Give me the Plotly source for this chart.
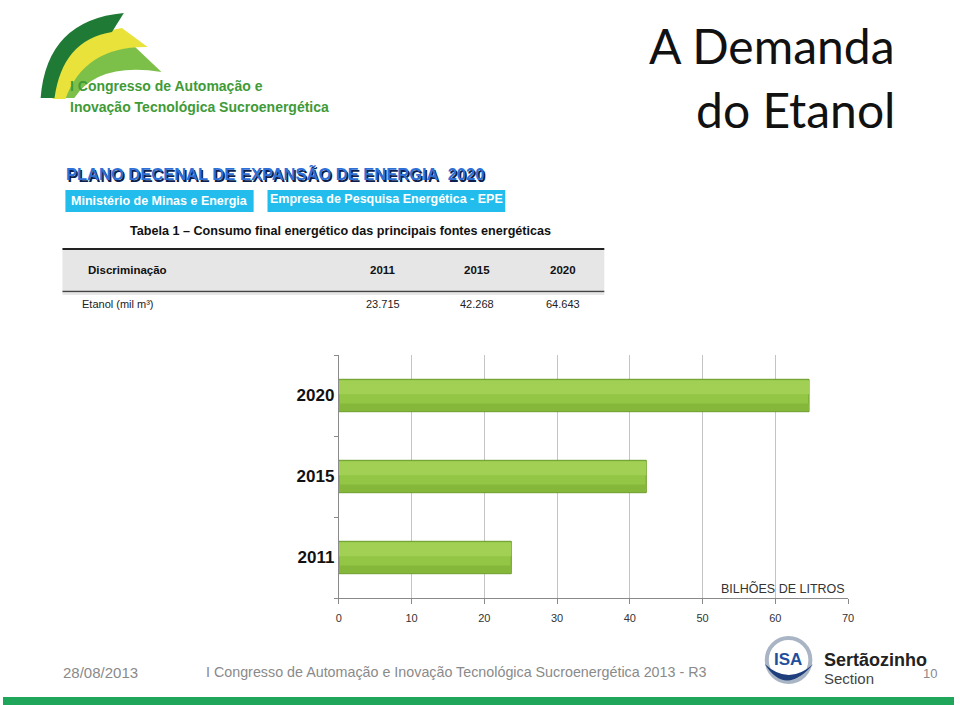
import plotly.graph_objects as go

# ---------------- data ----------------
years = ["2011", "2015", "2020"]
etanol_bi_litros = [23.715, 42.268, 64.643]
x_tick_values = [0, 10, 20, 30, 40, 50, 60, 70]
table_header = ["Discriminação", "2011", "2015", "2020"]
table_row_label = "Etanol (mil m³)"
axis_unit = "BILHÕES DE LITROS"
title_lines = ["A Demanda", "do Etanol"]
plan_title = "PLANO DECENAL DE EXPANSÃO DE ENERGIA\u00a0 2020"
box_labels = ["Ministério de Minas e Energia", "Empresa de Pesquisa Energética - EPE"]
table_caption = "Tabela 1 – Consumo final energético das principais fontes energéticas"
logo_lines = ["I Congresso de Automação e", "Inovação Tecnológica Sucroenergética"]
footer_date = "28/08/2013"
footer_text = "I Congresso de Automação e Inovação Tecnológica Sucroenergética 2013 - R3"
page_number = "10"

W, H = 960, 705


def X(px):
    return px / W


def Y(py):
    return 1 - py / H


def path(cmds):
    out = []
    for c in cmds:
        op = c[0]
        nums = c[1:]
        pts = []
        for i in range(0, len(nums), 2):
            pts.append(f"{X(nums[i]):.5f},{Y(nums[i + 1]):.5f}")
        out.append(op + " " + " ".join(pts))
    return " ".join(out)


fig = go.Figure()

# bars (base + light/dark bands to imitate the gradient)
fig.add_trace(go.Bar(
    x=etanol_bi_litros, y=years, orientation="h", width=0.4,
    marker=dict(color="#92c644", line=dict(color="#6a9a2a", width=1)),
    hoverinfo="skip", showlegend=False,
))
fig.add_trace(go.Bar(
    x=etanol_bi_litros, y=years, orientation="h", width=0.17, offset=0.015,
    marker=dict(color="#a2d055", line=dict(width=0)),
    hoverinfo="skip", showlegend=False,
))
fig.add_trace(go.Bar(
    x=etanol_bi_litros, y=years, orientation="h", width=0.09, offset=-0.19,
    marker=dict(color="#85b83a", line=dict(width=0)),
    hoverinfo="skip", showlegend=False,
))

fig.update_layout(
    width=W, height=H,
    margin=dict(l=0, r=0, t=0, b=0),
    paper_bgcolor="white", plot_bgcolor="white",
    barmode="overlay",
    showlegend=False,
    xaxis=dict(
        domain=[X(339), X(853)], range=[0, 70], tickvals=x_tick_values,
        showgrid=True, gridcolor="#c4c4c4", gridwidth=1,
        showline=True, linecolor="#8a8a8a", linewidth=1,
        ticks="outside", ticklen=5, tickcolor="#8a8a8a",
        tickfont=dict(family="Liberation Sans", size=11, color="#333333"),
        ticklabelstandoff=5, zeroline=False, fixedrange=True,
    ),
    yaxis=dict(
        domain=[Y(598), Y(355)], type="category",
        categoryorder="array", categoryarray=years, range=[-0.5, 2.5],
        showgrid=False, showline=True, linecolor="#8a8a8a", linewidth=1,
        ticks="outside", ticklen=4, tickcolor="#8a8a8a", tickson="boundaries",
        tickfont=dict(family="Liberation Sans", size=17, color="#111111", weight="bold"),
        fixedrange=True,
    ),
)

shapes = []
ann = []

# ---------- logo arcs ----------
shapes.append(dict(type="path", xref="paper", yref="paper",
                   path=path([("M", 62, 98), ("Q", 72, 48, 128, 42), ("L", 160, 72),
                              ("Q", 96, 62, 72, 98), ("Z",)]),
                   fillcolor="#7cc04a", line=dict(width=0)))
shapes.append(dict(type="path", xref="paper", yref="paper",
                   path=path([("M", 50, 99), ("Q", 58, 38, 120, 28), ("L", 146, 47),
                              ("Q", 82, 46, 63, 99), ("Z",)]),
                   fillcolor="#e8e23a", line=dict(width=0)))
shapes.append(dict(type="path", xref="paper", yref="paper",
                   path=path([("M", 38, 98), ("Q", 44, 20, 122, 13), ("L", 110, 32),
                              ("Q", 60, 40, 52, 98), ("Z",)]),
                   fillcolor="#1f7a35", line=dict(width=0)))
for i, t in enumerate(logo_lines):
    ann.append(dict(x=X(66), y=Y(86 + 21 * i), xref="paper", yref="paper",
                    text=t, showarrow=False, xanchor="left", yanchor="middle",
                    font=dict(family="Liberation Sans", size=14,
                              color="#3f9a38", weight="bold")))

# ---------- big title ----------
for i, t in enumerate(title_lines):
    ann.append(dict(x=X(902), y=Y(46 + 63 * i), xref="paper", yref="paper",
                    text=t, showarrow=False, xanchor="right", yanchor="middle",
                    font=dict(family="Lato", size=48, color="#111111")))

# ---------- plan title with shadow ----------
ann.append(dict(x=X(62), y=Y(173), xref="paper", yref="paper", text=plan_title,
                showarrow=False, xanchor="left", yanchor="middle",
                font=dict(family="Liberation Sans", size=16.5,
                          color="#2f6fd6", weight="bold",
                          shadow="1.5px 1.5px 0px #0d1f4e")))

# blue boxes
for (x0, x1, ty), t in zip([(63, 253, 201), (267, 507, 199)], box_labels):
    shapes.append(dict(type="rect", xref="paper", yref="paper",
                       x0=X(x0), x1=X(x1), y0=Y(212), y1=Y(190),
                       fillcolor="#22bdec", line=dict(width=0)))
    ann.append(dict(x=X((x0 + x1) / 2), y=Y(ty), xref="paper", yref="paper", text=t,
                    showarrow=False, xanchor="center", yanchor="middle",
                    font=dict(family="Liberation Sans", size=12.5, color="white", weight="bold")))

# caption
ann.append(dict(x=X(341), y=Y(231), xref="paper", yref="paper", text=table_caption,
                showarrow=False, xanchor="center", yanchor="middle",
                font=dict(family="Liberation Sans", size=12.6, color="#111111", weight="bold")))

# table
shapes.append(dict(type="rect", xref="paper", yref="paper", x0=X(60), x1=X(607),
                   y0=Y(291), y1=Y(250), fillcolor="#e6e6e6", line=dict(width=0)))
shapes.append(dict(type="line", xref="paper", yref="paper", x0=X(60), x1=X(607),
                   y0=Y(249), y1=Y(249), line=dict(color="#222222", width=2)))
shapes.append(dict(type="line", xref="paper", yref="paper", x0=X(60), x1=X(607),
                   y0=Y(291.5), y1=Y(291.5), line=dict(color="#444444", width=1.5)))
shapes.append(dict(type="line", xref="paper", yref="paper", x0=X(60), x1=X(607),
                   y0=Y(294), y1=Y(294), line=dict(color="#cfcfcf", width=1)))

col_x = [None, 384, 478, 565]
ann.append(dict(x=X(84), y=Y(270), xref="paper", yref="paper", text=table_header[0],
                showarrow=False, xanchor="left", yanchor="middle",
                font=dict(family="Liberation Sans", size=11.5, color="#111111", weight="bold")))
for cx, t in zip(col_x[1:], table_header[1:]):
    ann.append(dict(x=X(cx), y=Y(270), xref="paper", yref="paper", text=t,
                    showarrow=False, xanchor="center", yanchor="middle",
                    font=dict(family="Liberation Sans", size=11.5, color="#111111", weight="bold")))
ann.append(dict(x=X(78), y=Y(304), xref="paper", yref="paper", text=table_row_label,
                showarrow=False, xanchor="left", yanchor="middle",
                font=dict(family="Liberation Sans", size=11, color="#222222")))
for cx, v in zip(col_x[1:], etanol_bi_litros):
    ann.append(dict(x=X(cx), y=Y(304), xref="paper", yref="paper", text=f"{v:.3f}",
                    showarrow=False, xanchor="center", yanchor="middle",
                    font=dict(family="Liberation Sans", size=11, color="#222222")))

# unit label in chart
ann.append(dict(x=X(852), y=Y(588), xref="paper", yref="paper", text=axis_unit,
                showarrow=False, xanchor="right", yanchor="middle",
                font=dict(family="Liberation Sans", size=12.5, color="#333333")))

# ---------- footer ----------
ann.append(dict(x=X(98), y=Y(672), xref="paper", yref="paper", text=footer_date,
                showarrow=False, xanchor="center", yanchor="middle",
                font=dict(family="Liberation Sans", size=15, color="#8a8a8a")))
ann.append(dict(x=X(457), y=Y(672), xref="paper", yref="paper", text=footer_text,
                showarrow=False, xanchor="center", yanchor="middle",
                font=dict(family="Liberation Sans", size=14.3, color="#8a8a8a")))
ann.append(dict(x=X(936), y=Y(673), xref="paper", yref="paper", text=page_number,
                showarrow=False, xanchor="center", yanchor="middle",
                font=dict(family="Liberation Sans", size=13, color="#8a8a8a")))

# ISA logo
shapes.append(dict(type="circle", xref="paper", yref="paper",
                   x0=X(771), x1=X(815), y0=Y(682), y1=Y(638),
                   line=dict(color="#a9b5c5", width=4), fillcolor="rgba(0,0,0,0)"))
shapes.append(dict(type="path", xref="paper", yref="paper",
                   path=path([("M", 769, 664), ("Q", 790, 697, 818, 664),
                              ("Q", 793, 686, 769, 664), ("Z",)]),
                   fillcolor="#1f3f7c", line=dict(width=0)))
ann.append(dict(x=X(792), y=Y(659), xref="paper", yref="paper", text="ISA",
                showarrow=False, xanchor="center", yanchor="middle",
                font=dict(family="Liberation Sans", size=17, color="#1f4f9c", weight="bold")))
ann.append(dict(x=X(827), y=Y(660), xref="paper", yref="paper", text="Sertãozinho",
                showarrow=False, xanchor="left", yanchor="middle",
                font=dict(family="Liberation Sans", size=18, color="#222222", weight="bold")))
ann.append(dict(x=X(827), y=Y(678), xref="paper", yref="paper", text="Section",
                showarrow=False, xanchor="left", yanchor="middle",
                font=dict(family="Liberation Sans", size=15, color="#444444")))

# bottom green bar
shapes.append(dict(type="rect", xref="paper", yref="paper", x0=0, x1=1,
                   y0=0, y1=Y(697), fillcolor="#1fa65a", line=dict(width=0)))

fig.update_layout(shapes=shapes, annotations=ann)

page_fix = (
    "var s=document.createElement('style');"
    "s.textContent='html,body{margin:0 !important;padding:0 !important;"
    "overflow:hidden !important;}';"
    "document.head.appendChild(s);window.scrollTo(0,0);"
)
fig.write_html(
    "out.html",
    config={"displayModeBar": False},
    post_script=page_fix,
)
